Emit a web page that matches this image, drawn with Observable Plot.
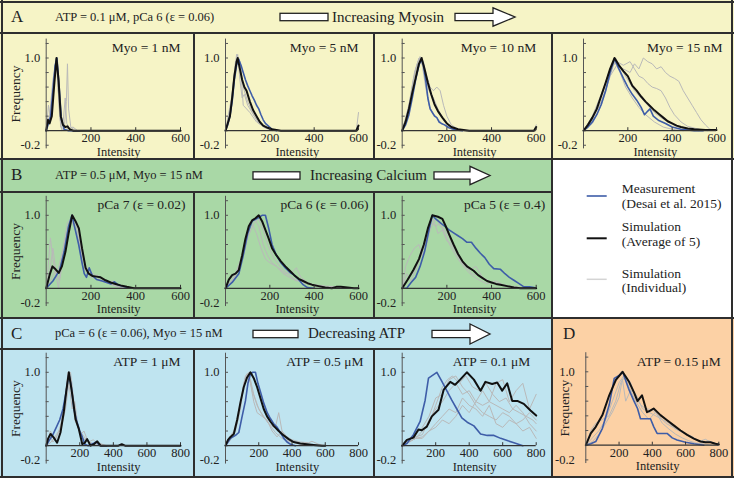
<!DOCTYPE html>
<html><head><meta charset="utf-8">
<script src="https://cdn.jsdelivr.net/npm/d3@7"></script>
<script src="https://cdn.jsdelivr.net/npm/@observablehq/plot@0.6"></script>
<style>
body{margin:0;background:#fff;}
#fig{position:relative;width:734px;height:478px;overflow:hidden;font-family:"Liberation Serif","Times New Roman",serif;color:#222;}
.bg,.ln,.t,.pl{position:absolute;}
.ln{background:#2e2e2e;}
.t{white-space:nowrap;line-height:1;transform:translateY(-50%);}
</style></head><body><div id="fig"></div>
<script>
// ---------- tick values ----------
const xTicks600 = [200, 400, 600];
const xTicks800 = [200, 400, 600, 800];
const yTickMarks = [-0.2, 0, 0.2, 0.4, 0.6, 0.8, 1.0, 1.2];
const yTickLabels = [1.0, -0.2];

// ---------- panel titles ----------
const titlesA = ["Myo = 1 nM", "Myo = 5 nM", "Myo = 10 nM", "Myo = 15 nM"];
const titlesB = ["pCa 7 (ε = 0.02)", "pCa 6 (ε = 0.06)", "pCa 5 (ε = 0.4)"];
const titlesC = ["ATP = 1 μM", "ATP = 0.5 μM", "ATP = 0.1 μM"];
const titleD = "ATP = 0.15 μM";
const legendLabels = [["Measurement", "(Desai et al. 2015)"], ["Simulation", "(Average of 5)"], ["Simulation", "(Individual)"]];

// ---------- A: Myo = 1 nM ----------
const A1_meas = [[0,0],[10,0.1],[20,0.2],[30,0.55],[40,0.9],[48,1.0],[58,0.6],[68,0.15],[80,0.02],[100,0],[150,0]];
const A1_avg = [[0,0],[8,0.15],[15,0.1],[25,0.2],[35,0.6],[46,1.0],[55,0.7],[65,0.2],[75,0.08],[85,0.05],[95,0.06],[105,0.02],[120,0],[600,0]];
const A1_ind = [
  [[0,0],[10,0.35],[20,0.15],[30,0.5],[45,1.0],[55,0.5],[65,0.05],[80,0],[90,0.4],[95,0.92],[100,0.3],[110,0.05],[130,0]],
  [[0,0],[15,0.2],[30,0.7],[45,0.95],[60,0.3],[75,0.1],[85,0.45],[92,0.1],[110,0],[140,0]],
  [[0,0],[20,0.25],[40,0.9],[50,0.8],[60,0.2],[70,0],[120,0.05],[140,0]]
];
// ---------- A: Myo = 5 nM ----------
const A2_meas = [[0,0],[10,0.08],[20,0.2],[30,0.4],[40,0.7],[50,0.9],[60,0.98],[70,0.9],[80,0.8],[90,0.7],[100,0.62],[110,0.55],[120,0.48],[130,0.42],[140,0.35],[150,0.3],[160,0.22],[170,0.15],[180,0.1],[195,0.06],[210,0.02],[230,0]];
const A2_avg = [[0,0],[10,0.1],[20,0.2],[30,0.45],[40,0.75],[50,0.95],[55,1.0],[65,0.85],[75,0.7],[85,0.6],[95,0.55],[110,0.4],[125,0.28],[140,0.2],[155,0.12],[170,0.07],[190,0.04],[210,0.02],[250,0],[590,0],[600,0.07]];
const A2_ind = [
  [[0,0],[20,0.2],[40,0.8],[55,1.05],[65,0.7],[75,0.45],[85,0.5],[100,0.35],[120,0.25],[150,0.1],[200,0.02],[250,0],[590,0],[600,0.25]],
  [[0,0],[25,0.35],[45,0.95],[60,1.0],[70,0.8],[80,0.35],[95,0.3],[110,0.25],[140,0.12],[180,0.04],[220,0]],
  [[0,0],[30,0.5],[50,1.05],[65,0.95],[80,0.6],[100,0.4],[130,0.2],[170,0.05],[210,0]]
];
// ---------- A: Myo = 10 nM ----------
const A3_meas = [[0,0],[15,0.08],[30,0.22],[45,0.45],[60,0.7],[75,0.9],[85,0.98],[95,0.9],[105,0.7],[115,0.45],[125,0.3],[135,0.25],[145,0.2],[155,0.18],[165,0.12],[175,0.1],[190,0.08],[210,0.04],[240,0.01],[270,0]];
const A3_avg = [[0,0],[15,0.12],[30,0.3],[45,0.52],[60,0.72],[75,0.92],[87,1.0],[100,0.85],[115,0.66],[130,0.5],[145,0.36],[160,0.27],[180,0.18],[200,0.1],[220,0.05],[250,0.02],[300,0],[590,0],[600,0.05]];
const A3_ind = [
  [[0,0],[20,0.2],[40,0.5],[60,0.85],[80,1.02],[95,0.95],[110,0.75],[125,0.6],[140,0.55],[155,0.6],[170,0.55],[185,0.35],[200,0.2],[220,0.08],[250,0.02],[290,0]],
  [[0,0],[30,0.35],[55,0.8],[75,1.0],[90,0.9],[105,0.6],[120,0.35],[135,0.25],[150,0.2],[170,0.12],[200,0.05],[240,0]],
  [[0,0],[25,0.25],[50,0.7],[70,0.95],[85,1.0],[100,0.8],[120,0.55],[140,0.45],[160,0.3],[190,0.12],[230,0.03],[270,0],[590,0],[600,0.08]]
];
// ---------- A: Myo = 15 nM ----------
const A4_meas = [[0,0],[20,0.05],[40,0.12],[60,0.22],[80,0.36],[100,0.55],[120,0.8],[140,0.99],[160,0.85],[180,0.72],[200,0.6],[220,0.5],[240,0.42],[260,0.32],[275,0.22],[290,0.27],[300,0.3],[315,0.2],[340,0.14],[370,0.1],[400,0.05],[440,0.02],[500,0],[540,0]];
const A4_avg = [[0,0],[20,0.08],[40,0.18],[60,0.3],[80,0.48],[100,0.66],[120,0.85],[140,1.0],[160,0.9],[180,0.82],[200,0.75],[220,0.62],[240,0.55],[260,0.47],[280,0.4],[300,0.34],[320,0.28],[340,0.23],[360,0.18],[380,0.13],[400,0.1],[420,0.07],[440,0.05],[470,0.03],[500,0.02],[550,0.01],[600,0.01]];
const A4_ind = [
  [[0,0],[40,0.15],[80,0.4],[120,0.75],[150,0.9],[180,0.85],[210,0.8],[230,0.92],[250,0.85],[270,1.0],[290,0.95],[310,0.92],[330,0.85],[350,0.88],[370,0.8],[390,0.75],[410,0.72],[430,0.68],[450,0.55],[470,0.45],[490,0.35],[510,0.25],[530,0.15],[550,0.08],[570,0.02],[600,0]],
  [[0,0],[40,0.2],[80,0.5],[120,0.85],[150,0.95],[180,0.9],[210,0.95],[230,0.85],[250,0.75],[270,0.72],[290,0.65],[310,0.6],[330,0.58],[350,0.55],[370,0.45],[390,0.32],[410,0.22],[440,0.12],[470,0.06],[520,0.02],[560,0]],
  [[0,0],[30,0.1],[60,0.3],[90,0.55],[120,0.85],[145,1.0],[170,0.85],[200,0.7],[230,0.55],[260,0.45],[290,0.35],[320,0.25],[350,0.18],[380,0.12],[420,0.06],[470,0.02],[520,0]],
  [[0,0],[40,0.1],[80,0.35],[110,0.65],[140,0.95],[165,0.8],[190,0.6],[220,0.45],[250,0.32],[280,0.22],[320,0.12],[360,0.05],[400,0.02],[450,0]]
];
// ---------- B: pCa 7 ----------
const B1_meas = [[0,0],[30,0.1],[60,0.25],[80,0.5],[100,0.85],[115,1.0],[130,0.8],[145,0.6],[160,0.35],[170,0.2],[180,0.15],[192,0.28],[205,0.18],[225,0.12],[250,0.1],[270,0.08],[290,0.06],[305,0.09],[320,0.05],[350,0.02],[380,0]];
const B1_avg = [[0,0],[15,0.18],[28,0.3],[42,0.26],[56,0.21],[70,0.3],[86,0.5],[100,0.75],[116,1.0],[131,0.92],[146,0.82],[160,0.55],[176,0.28],[190,0.2],[206,0.17],[225,0.16],[243,0.15],[265,0.11],[288,0.08],[310,0.06],[332,0.04],[360,0.02],[392,0],[600,0]];
const B1_ind = [
  [[0,0],[10,0.35],[19,0.69],[30,0.4],[45,0.15],[60,0.35],[80,0.6],[100,0.85],[115,0.95],[130,0.9],[145,0.7],[165,0.3],[185,0.2],[210,0.15],[240,0.1],[270,0.08],[300,0.1],[320,0.03],[350,0]],
  [[0,0],[15,0.2],[30,0.55],[45,0.2],[60,0.1],[80,0.5],[100,0.8],[120,1.0],[140,0.85],[160,0.5],[180,0.25],[210,0.2],[240,0.12],[280,0.06],[320,0.02],[360,0]],
  [[0,0],[20,0.1],[40,0.25],[55,0],[70,0.45],[95,0.9],[110,0.95],[130,0.8],[150,0.6],[170,0.35],[200,0.15],[230,0.18],[260,0.1],[300,0.05],[340,0.01],[380,0]]
];
// ---------- B: pCa 6 ----------
const B2_meas = [[0,0],[30,0.08],[60,0.2],[80,0.45],[100,0.75],[120,0.92],[150,0.97],[165,1.0],[180,1.0],[195,0.82],[210,0.6],[230,0.45],[250,0.35],[270,0.28],[290,0.22],[310,0.18],[330,0.12],[350,0.05],[370,0.01],[400,0]];
const B2_avg = [[0,0],[15,0.12],[30,0.18],[45,0.2],[60,0.25],[75,0.45],[90,0.68],[105,0.85],[120,0.93],[135,0.96],[150,1.0],[165,0.92],[180,0.8],[195,0.68],[210,0.55],[230,0.45],[250,0.37],[270,0.3],[290,0.24],[310,0.18],[330,0.13],[350,0.1],[370,0.07],[390,0.05],[420,0.03],[450,0.01],[480,0],[500,0.02],[520,0.02],[550,0.01],[580,0],[600,0]];
const B2_ind = [
  [[0,0],[30,0.1],[60,0.25],[90,0.55],[110,0.85],[130,0.95],[150,0.85],[170,0.6],[190,0.45],[210,0.35],[230,0.3],[250,0.25],[270,0.2],[300,0.22],[320,0.28],[340,0.15],[370,0.08],[400,0.04],[450,0.02],[500,0.01],[550,0]],
  [[0,0],[40,0.15],[80,0.5],[110,0.9],[125,0.85],[140,0.75],[160,0.55],[180,0.4],[200,0.35],[230,0.3],[260,0.2],[290,0.15],[320,0.1],[350,0.12],[380,0.05],[420,0.02],[460,0]],
  [[0,0],[30,0.12],[70,0.35],[100,0.7],[130,0.9],[150,0.95],[170,0.8],[190,0.6],[220,0.4],[260,0.25],[300,0.15],[340,0.08],[400,0.05],[450,0.03],[500,0.02],[560,0]]
];
// ---------- B: pCa 5 ----------
const B3_meas = [[0,0],[20,0],[40,0.08],[60,0.15],[80,0.3],[100,0.5],[120,0.8],[135,1.0],[150,0.95],[170,0.9],[190,0.85],[210,0.8],[230,0.76],[250,0.72],[270,0.68],[290,0.63],[310,0.63],[330,0.55],[350,0.48],[370,0.42],[390,0.33],[410,0.27],[440,0.26],[460,0.2],[480,0.15],[500,0.11],[520,0.07],[545,0.02],[570,0.02],[590,0.01],[600,0]];
const B3_avg = [[0,0],[25,0.12],[50,0.25],[75,0.4],[97,0.6],[115,0.82],[135,1.0],[160,0.98],[180,0.95],[195,0.85],[210,0.74],[230,0.6],[250,0.47],[270,0.37],[290,0.3],[320,0.24],[340,0.18],[360,0.14],[380,0.1],[400,0.08],[420,0.06],[440,0.05],[470,0.03],[500,0.01],[530,0],[600,0]];
const B3_ind = [
  [[0,0],[15,0.3],[35,0.45],[55,0.55],[75,0.6],[90,0.45],[105,0.55],[125,0.8],[140,0.9],[155,0.95],[170,0.85],[190,0.8],[210,0.7],[230,0.55],[250,0.45],[270,0.35],[290,0.32],[310,0.2],[340,0.18],[370,0.12],[400,0.08],[440,0.06],[480,0.03],[530,0.01],[600,0]],
  [[0,0],[30,0.15],[60,0.25],[90,0.5],[120,0.85],[140,0.95],[160,0.75],[180,0.8],[200,0.65],[220,0.6],[240,0.5],[260,0.38],[280,0.3],[300,0.25],[330,0.3],[360,0.15],[400,0.08],[450,0.04],[500,0.02],[560,0]],
  [[0,0],[20,0.2],[40,0.1],[70,0.35],[100,0.6],[130,0.9],[150,0.85],[170,0.9],[190,0.75],[220,0.55],[250,0.4],[280,0.28],[310,0.18],[340,0.12],[380,0.06],[420,0.1],[460,0.03],[520,0]]
];
// ---------- C: ATP = 1 µM ----------
const C1_meas = [[0,0],[20,0.08],[40,0.15],[60,0.25],[80,0.35],[100,0.5],[120,0.75],[135,0.98],[150,0.8],[165,0.5],[180,0.35],[200,0.2],[215,0.12],[230,0.02],[250,0],[270,0.02],[300,0.05],[320,0],[360,0]];
const C1_avg = [[0,0],[12,0.1],[26,0.16],[45,0.11],[65,0.04],[85,0.18],[105,0.46],[120,0.75],[135,1.0],[155,0.7],[175,0.36],[194,0.23],[215,0.02],[230,0.04],[244,0.09],[264,0],[284,0.02],[304,0.06],[324,0],[430,0],[450,0.02],[470,0],[800,0]];
const C1_ind = [
  [[0,0],[20,0.15],[40,0.05],[60,0.1],[90,0.3],[110,0.55],[130,0.9],[145,1.0],[165,0.6],[185,0.3],[205,0.15],[225,0.2],[250,0.05],[280,0.08],[310,0.02],[350,0]],
  [[0,0],[30,0.05],[60,0.15],[90,0.25],[115,0.5],[135,0.85],[155,0.5],[170,0.6],[190,0.25],[220,0.1],[260,0.04],[300,0.02],[340,0]],
  [[0,0],[25,0.2],[50,0.08],[80,0.2],[110,0.6],[130,1.0],[150,0.9],[170,0.35],[200,0.2],[240,0.08],[280,0.02],[320,0.03],[360,0]]
];
// ---------- C: ATP = 0.5 µM ----------
const C2_meas = [[0,0],[30,0.1],[60,0.14],[80,0.18],[100,0.4],[120,0.61],[135,0.85],[150,0.98],[165,1.0],[180,1.0],[195,0.85],[211,0.73],[230,0.58],[251,0.45],[270,0.37],[290,0.3],[311,0.25],[330,0.18],[351,0.1],[370,0.05],[391,0.02],[420,0]];
const C2_avg = [[0,0],[15,0.08],[30,0.12],[50,0.16],[70,0.35],[90,0.59],[110,0.8],[130,0.93],[150,1.0],[170,0.92],[190,0.8],[210,0.65],[230,0.5],[250,0.4],[270,0.33],[290,0.27],[320,0.2],[350,0.14],[380,0.09],[410,0.05],[450,0.03],[490,0.02],[530,0.01],[580,0],[600,0]];
const C2_ind = [
  [[0,0],[20,0.1],[50,0.2],[80,0.45],[110,0.85],[130,0.95],[150,0.9],[170,0.7],[200,0.5],[230,0.4],[260,0.3],[290,0.25],[300,0.25],[320,0.45],[340,0.2],[370,0.12],[400,0.08],[450,0.05],[500,0.04],[520,0.06],[560,0.02],[600,0]],
  [[0,0],[30,0.08],[60,0.2],[90,0.5],[115,0.9],[130,0.98],[150,0.85],[170,0.6],[190,0.45],[220,0.4],[250,0.35],[280,0.2],[310,0.12],[340,0.2],[370,0.08],[420,0.04],[480,0.02],[540,0]],
  [[0,0],[40,0.12],[70,0.3],[100,0.7],[120,0.95],[140,1.0],[160,0.75],[190,0.55],[220,0.42],[260,0.3],[300,0.18],[340,0.1],[380,0.06],[430,0.03],[480,0.01],[520,0]]
];
// ---------- C: ATP = 0.1 µM ----------
const C3_meas = [[0,0],[28,0.03],[67,0.15],[107,0.33],[137,0.62],[157,0.92],[207,1.0],[236,0.88],[266,0.75],[296,0.62],[326,0.5],[356,0.38],[388,0.32],[428,0.27],[468,0.16],[508,0.14],[548,0.14],[588,0.1],[627,0.07],[667,0.04],[720,0]];
const C3_avg = [[0,0],[28,0.08],[67,0.11],[97,0.22],[117,0.21],[147,0.26],[177,0.4],[217,0.49],[247,0.76],[287,0.87],[316,0.83],[346,0.9],[386,1.0],[428,0.9],[468,0.75],[497,0.87],[537,0.84],[567,0.86],[597,0.75],[627,0.85],[657,0.61],[687,0.61],[726,0.57],[766,0.48],[800,0.41]];
const C3_ind = [
  [[0,0],[40,0.05],[80,0.1],[120,0.2],[160,0.3],[200,0.55],[240,0.8],[270,0.9],[300,0.95],[340,0.85],[380,0.95],[420,0.8],[460,0.75],[500,0.85],[540,0.7],[580,0.6],[620,0.65],[660,0.5],[700,0.45],[740,0.4],[780,0.35],[800,0.3]],
  [[0,0],[40,0.08],[80,0.12],[120,0.15],[160,0.35],[200,0.5],[240,0.6],[280,0.75],[320,0.85],[360,0.7],[400,0.75],[440,0.6],[480,0.55],[520,0.6],[560,0.85],[600,0.9],[640,0.6],[680,0.75],[720,0.85],[760,0.5],[800,0.7]],
  [[0,0],[40,0.05],[80,0.1],[120,0.12],[160,0.2],[200,0.3],[240,0.4],[280,0.5],[320,0.45],[360,0.65],[400,0.55],[440,0.5],[480,0.4],[520,0.55],[560,0.3],[600,0.25],[640,0.35],[680,0.3],[720,0.2],[760,0.25],[800,0.1]],
  [[0,0],[40,0.1],[80,0.15],[120,0.25],[160,0.4],[200,0.65],[240,0.7],[280,0.9],[320,0.95],[360,0.8],[400,0.7],[440,0.55],[480,0.45],[520,0.4],[560,0.35],[600,0.45],[640,0.4],[680,0.3],[720,0.35],[760,0.45],[800,0.35]],
  [[0,0],[40,0.05],[80,0.1],[120,0.1],[160,0.2],[200,0.25],[240,0.35],[280,0.3],[320,0.4],[360,0.55],[400,0.45],[440,0.6],[480,0.75],[520,0.6],[560,0.55],[600,0.5],[640,0.45],[680,0.55],[720,0.45],[760,0.3],[800,0.2]]
];
// ---------- D: ATP = 0.15 µM ----------
const D_meas = [[0,0],[30,0.02],[60,0.05],[100,0.23],[141,0.55],[171,0.91],[200,0.95],[221,1.0],[261,0.75],[290,0.6],[311,0.5],[329,0.36],[360,0.36],[389,0.36],[409,0.25],[429,0.16],[460,0.16],[489,0.16],[520,0.1],[549,0.07],[600,0.04],[650,0.02],[710,0]];
const D_avg = [[0,0],[30,0.16],[60,0.25],[100,0.41],[141,0.68],[181,0.89],[221,1.0],[261,0.86],[290,0.72],[311,0.6],[338,0.68],[368,0.45],[388,0.47],[408,0.5],[449,0.41],[489,0.34],[529,0.27],[570,0.2],[610,0.14],[650,0.09],[690,0.05],[720,0.04],[750,0.04],[780,0.02],[800,0.01]];
const D_ind = [
  [[0,0],[30,0.2],[60,0.3],[100,0.35],[140,0.4],[180,0.6],[210,0.85],[240,0.95],[270,0.85],[300,0.65],[330,0.55],[360,0.5],[400,0.48],[440,0.4],[480,0.3],[520,0.25],[560,0.2],[600,0.15],[640,0.12],[680,0.05],[720,0.08],[760,0.03],[800,0.02]],
  [[0,0],[40,0.05],[80,0.15],[120,0.3],[160,0.45],[200,0.65],[220,0.9],[240,0.6],[270,0.75],[300,0.7],[340,0.5],[380,0.45],[420,0.4],[460,0.35],[500,0.3],[540,0.22],[580,0.18],[620,0.12],[660,0.08],[700,0.04],[740,0.06],[780,0.02],[800,0]],
  [[0,0],[40,0.1],[80,0.2],[120,0.35],[160,0.6],[200,0.85],[230,0.95],[260,0.8],[300,0.6],[340,0.45],[380,0.35],[420,0.45],[460,0.3],[500,0.22],[540,0.15],[580,0.1],[620,0.06],[660,0.03],[700,0.02],[760,0],[800,0]]
];

// ---------- drawing ----------
const fig = document.getElementById("fig");
const COL = {A:"#f6f4c6", B:"#a9d8a6", C:"#bfe4f0", D:"#fcd1a5", meas:"#3e5da8", avg:"#111111", ind:"#b9b9b9"};

function box(cls, l, t, w, h, bg) {
  const d = document.createElement("div");
  d.className = cls;
  Object.assign(d.style, {left:l+"px", top:t+"px", width:w+"px", height:h+"px"});
  if (bg) d.style.background = bg;
  fig.appendChild(d);
  return d;
}
function text(str, l, cy, size, extra) {
  const d = document.createElement("div");
  d.className = "t";
  d.textContent = str;
  Object.assign(d.style, {left:l+"px", top:cy+"px", fontSize:size+"px"}, extra || {});
  fig.appendChild(d);
  return d;
}

// backgrounds
box("bg", 0, 0, 734, 159, COL.A);
box("bg", 0, 159, 552, 159, COL.B);
box("bg", 552, 159, 182, 159, "#ffffff");
box("bg", 0, 318, 552, 160, COL.C);
box("bg", 552, 318, 182, 160, COL.D);

function plotPanel(cfg) {
  const {cell:[L,T,R,B], ax0, ax1, py1, py0, xmax, xticks, title, titleDx, freq, freqDx, ylabDx, ind, meas, avg} = cfg;
  const k = py0 - py1, yTop = 1.26, yBot = -0.25;
  const fTop = py1 - (yTop - 1) * k, fBot = py0 - yBot * k;
  const tickLen = xmax * 3 / (ax1 - ax0);
  const X = d => d[0], Y = d => d[1];
  const marks = [
    ...ind.map(s => Plot.line(s, {x: X, y: Y, stroke: COL.ind, strokeWidth: 1})),
    Plot.line(meas, {x: X, y: Y, stroke: COL.meas, strokeWidth: 1.6}),
    Plot.line(avg, {x: X, y: Y, stroke: COL.avg, strokeWidth: 2}),
    Plot.ruleX([0], {y1: yBot, y2: yTop, stroke: "#555", strokeWidth: 1}),
    Plot.ruleY(yTickMarks, {x1: 0, x2: tickLen, stroke: "#555", strokeWidth: 1}),
    Plot.ruleY([0], {x1: 0, x2: xmax, stroke: "#333", strokeWidth: 1.2}),
    Plot.ruleX(xticks, {y1: 0, y2: 3 / k, stroke: "#333", strokeWidth: 1}),
    Plot.text(xticks, {x: d => d, y: 0, text: d => String(d), dy: 7.5, lineAnchor: "middle", fontSize: 12.5, fill: "#222"}),
    Plot.text(yTickLabels, {x: 0, y: d => d, text: d => d.toFixed(1), textAnchor: "end", dx: ylabDx, lineAnchor: "middle", fontSize: 12.5, fill: "#222"}),
    Plot.text(["Intensity"], {x: () => 0.54 * xmax, y: () => 0, dy: 20.8, lineAnchor: "middle", fontSize: 12.5, fill: "#222"}),
    Plot.text([title], {frameAnchor: "top-right", dx: titleDx, dy: 8.5, textAnchor: "end", lineAnchor: "middle", fontSize: 13.5, fill: "#222"})
  ];
  if (freq) marks.push(Plot.text(["Frequency"], {frameAnchor: "left", dx: freqDx, rotate: -90, textAnchor: "middle", lineAnchor: "middle", fontSize: 13.5, fill: "#222"}));
  const p = Plot.plot({
    width: R - L, height: B - T,
    marginLeft: ax0 - L, marginRight: R - ax1, marginTop: fTop - T, marginBottom: B - fBot,
    x: {domain: [0, xmax], axis: null},
    y: {domain: [yBot, yTop], axis: null},
    style: {background: "transparent", fontFamily: "'Liberation Serif','Times New Roman',serif", overflow: "visible"},
    marks
  });
  p.classList.add("pl");
  Object.assign(p.style, {position: "absolute", left: L + "px", top: T + "px"});
  fig.appendChild(p);
}

const rowA = {T: 33.5, B: 157.5, py1: 57, py0: 129.7};
const rowB = {T: 192.5, B: 316.5, py1: 214.3, py0: 287.3};
const rowC = {T: 349.5, B: 476, py1: 371.3, py0: 444.7};
const cols = [[3,193,45.7,180],[195,373,225,358],[375,551,401.7,535.7],[553,731,583,716]];

const Adata = [[A1_ind,A1_meas,A1_avg],[A2_ind,A2_meas,A2_avg],[A3_ind,A3_meas,A3_avg],[A4_ind,A4_meas,A4_avg]];
const Bdata = [[B1_ind,B1_meas,B1_avg],[B2_ind,B2_meas,B2_avg],[B3_ind,B3_meas,B3_avg]];
const Cdata = [[C1_ind,C1_meas,C1_avg],[C2_ind,C2_meas,C2_avg],[C3_ind,C3_meas,C3_avg]];
const titleDxA = [0, 0, 0, 6], titleDxB = [5, 10, 9], titleDxC = [0, 5, -6];

Adata.forEach(([ind, meas, avg], i) => plotPanel({cell:[cols[i][0], rowA.T, cols[i][1], rowA.B], ax0: cols[i][2], ax1: cols[i][3], py1: rowA.py1, py0: rowA.py0, xmax: 600, xticks: xTicks600, title: titlesA[i], titleDx: titleDxA[i], freq: i === 0, freqDx: -30.7, ylabDx: -6, ind, meas, avg}));
Bdata.forEach(([ind, meas, avg], i) => plotPanel({cell:[cols[i][0], rowB.T, cols[i][1], rowB.B], ax0: cols[i][2], ax1: cols[i][3], py1: rowB.py1, py0: rowB.py0, xmax: 600, xticks: xTicks600, title: titlesB[i], titleDx: titleDxB[i], freq: i === 0, freqDx: -30.7, ylabDx: -6, ind, meas, avg}));
Cdata.forEach(([ind, meas, avg], i) => plotPanel({cell:[cols[i][0], rowC.T, cols[i][1], rowC.B], ax0: cols[i][2], ax1: cols[i][3], py1: rowC.py1, py0: rowC.py0, xmax: 800, xticks: xTicks800, title: titlesC[i], titleDx: titleDxC[i], freq: i === 0, freqDx: -30.7, ylabDx: -6, ind, meas, avg}));
plotPanel({cell:[553, 320, 731, 476], ax0: 585.3, ax1: 718.3, py1: rowC.py1, py0: rowC.py0, xmax: 800, xticks: xTicks800, title: titleD, titleDx: 2, freq: true, freqDx: -21, ylabDx: -11, ind: D_ind, meas: D_meas, avg: D_avg});

// lines (borders)
[[0,1,734,2],[0,31.5,734,2],[0,157.5,734,2.5],[0,190.8,552,2],[0,316.5,734,2.5],[0,347.5,552,2],[0,475.5,734,2.5]].forEach(a => box("ln", ...a));
[[1,0,2,478],[731,0,2,478],[193,32,2,126],[373,32,2,126],[551,32,2,446],[193,191,2,127],[373,191,2,127],[193,348,2,128],[373,348,2,128]].forEach(a => box("ln", ...a));

// header texts
text("A", 11, 16, 17);
text("ATP = 0.1 μM, pCa 6 (ε = 0.06)", 55, 17, 12.5);
text("Increasing Myosin", 332, 17, 15);
text("B", 11, 174, 17);
text("ATP = 0.5 μM, Myo = 15 nM", 55, 175, 12.5);
text("Increasing Calcium", 310, 175, 15);
text("C", 11, 333, 17);
text("pCa = 6 (ε = 0.06), Myo = 15 nM", 55, 333, 12.5);
text("Decreasing ATP", 308, 333, 15);
text("D", 563, 333, 17);

// arrows
const NS = "http://www.w3.org/2000/svg";
const svg = document.createElementNS(NS, "svg");
svg.setAttribute("width", 734); svg.setAttribute("height", 478);
Object.assign(svg.style, {position: "absolute", left: 0, top: 0, pointerEvents: "none"});
function arrow(x0, x1, s0, s1, tip, cy, hh, sh) {
  const r = document.createElementNS(NS, "rect");
  r.setAttribute("x", x0); r.setAttribute("y", cy - sh); r.setAttribute("width", x1 - x0); r.setAttribute("height", 2 * sh);
  r.setAttribute("fill", "#fff"); r.setAttribute("stroke", "#222"); r.setAttribute("stroke-width", 1.3);
  svg.appendChild(r);
  const p = document.createElementNS(NS, "polygon");
  p.setAttribute("points", `${s0},${cy - sh} ${s1},${cy - sh} ${s1},${cy - hh} ${tip},${cy} ${s1},${cy + hh} ${s1},${cy + sh} ${s0},${cy + sh}`);
  p.setAttribute("fill", "#fff"); p.setAttribute("stroke", "#222"); p.setAttribute("stroke-width", 1.3);
  svg.appendChild(p);
}
arrow(280, 328, 455, 493, 515, 17, 9.2, 3.7);
arrow(253, 300, 434, 470, 490, 175.5, 9.2, 3.7);
arrow(253, 298, 432, 470, 490, 334, 10, 3.7);
// legend samples
[[196, COL.meas, 1.6], [238.3, COL.avg, 2], [279.3, "#d4d4d4", 1.5]].forEach(([y, c, w]) => {
  const l = document.createElementNS(NS, "line");
  l.setAttribute("x1", 586.7); l.setAttribute("x2", 606.7); l.setAttribute("y1", y); l.setAttribute("y2", y);
  l.setAttribute("stroke", c); l.setAttribute("stroke-width", w);
  svg.appendChild(l);
});
fig.appendChild(svg);
const legY = [[189.3, 204.3], [226.7, 241.7], [274, 288.3]];
legendLabels.forEach((pair, i) => pair.forEach((s, j) => text(s, 621.7, legY[i][j], 13.5)));
</script></body></html>
